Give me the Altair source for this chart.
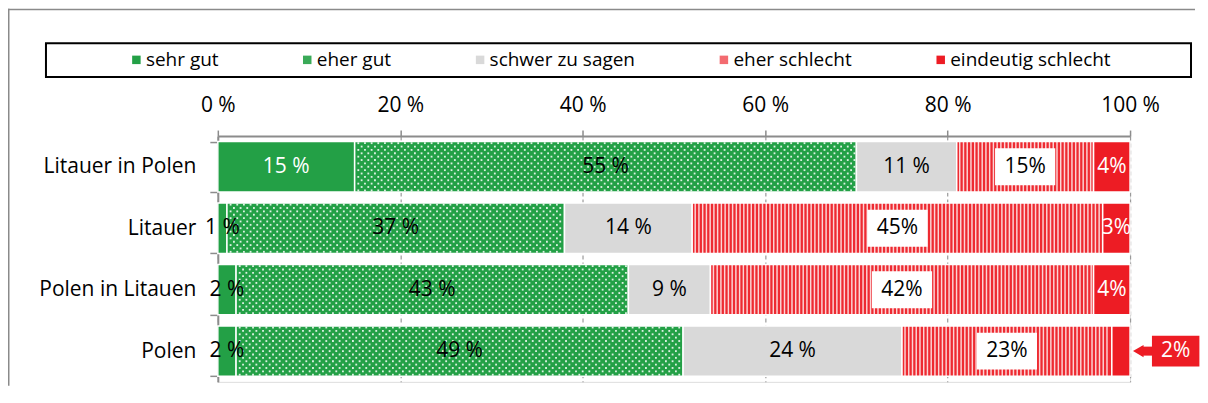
import altair as alt
import pandas as pd
import numpy as np

groups = ["Litauer in Polen", "Litauer", "Polen in Litauen", "Polen"]
answers = ["sehr gut", "eher gut", "schwer zu sagen", "eher schlecht", "eindeutig schlecht"]
sehr_gut = [15, 1, 2, 2]
eher_gut = [55, 37, 43, 49]
schwer_zu_sagen = [11, 14, 9, 24]
eher_schlecht = [15, 45, 42, 23]
eindeutig_schlecht = [4, 3, 4, 2]
bar_colors = ["#23A046", "#23A046", "#D9D9D9", "#EE2A31", "#ED1C24"]
legend_colors = ["#23A046", "#3AAA58", "#D9D9D9", "#F36B70", "#ED1C24"]
x_ticks = [0, 20, 40, 60, 80, 100]
FONT = "Open Sans"

series = [sehr_gut, eher_gut, schwer_zu_sagen, eher_schlecht, eindeutig_schlecht]

# stacked segments
rows = []
for gi, g in enumerate(groups):
    start = 0
    for ai, a in enumerate(answers):
        v = series[ai][gi]
        end = start + v
        lab = f"{v} %" if ai <= 2 else f"{v}%"
        callout = (g == "Polen" and a == "eindeutig schlecht")
        tcol = "white" if (a == "eindeutig schlecht" or (a == "sehr gut" and v >= 10)) else "black"
        rows.append(dict(group=g, answer=a, start=start, end=end, mid=(start + end) / 2,
                         label="" if callout else lab, tcol=tcol, value=v, callout=callout,
                         barcolor=bar_colors[ai]))
        start = end
seg = pd.DataFrame(rows)

# dot texture on "eher gut"
dots = []
step = 0.73
for _, r in seg[seg.answer == "eher gut"].iterrows():
    for j in range(15):
        x = r.start + 0.3 + (j % 2) * step / 2
        while x < r.end - 0.3:
            dots.append(dict(group=r.group, j=j, x=x, x2=x + 0.2))
            x += step
dots = pd.DataFrame(dots)

# stripe texture on "eher schlecht"
stripes = []
for _, r in seg[seg.answer == "eher schlecht"].iterrows():
    x = r.start + 0.25
    while x < r.end - 0.25:
        stripes.append(dict(group=r.group, x=x, x2=x + 0.16))
        x += 0.41
stripes = pd.DataFrame(stripes)

# white label boxes on "eher schlecht"
boxes = seg[seg.answer == "eher schlecht"].copy()
boxes["b1"] = boxes["mid"] - 3.3
boxes["b2"] = boxes["mid"] + 3.3

# callout for Polen / eindeutig schlecht
co = seg[seg.callout].copy()
co["label"] = co["value"].astype(str) + "%"
co["b1"] = co["end"] + 2.4
co["b2"] = co["end"] + 7.6
co["bm"] = co["end"] + 5.0
co["s1"] = co["end"] + 1.2
co["s2"] = co["end"] + 2.5
co["tip"] = co["end"] + 0.9

W, H = 913, 246
yscale = alt.Scale(domain=groups, paddingInner=0.18, paddingOuter=0.09)
xscale = alt.Scale(domain=[0, 100], nice=False)
Y = alt.Y("group:N", scale=yscale, sort=groups,
          axis=alt.Axis(title=None, labelFontSize=21, labelFont=FONT, labelColor="black",
                        labelPadding=14, tickSize=8, tickBand="extent", tickColor="#8c8c8c",
                        domainColor="#8c8c8c", domainWidth=2, tickWidth=1.5))

xaxis = alt.Axis(orient="top", values=x_ticks, labelExpr="datum.value + ' %'", title=None,
                 labelFontSize=21, labelFont=FONT, labelColor="black", labelPadding=15,
                 labelFlush=False,
                 tickSize=6, tickColor="#8c8c8c", tickWidth=1.5, domainColor="#8c8c8c",
                 domainWidth=2, grid=True, gridColor="#9a9a9a", gridDash=[4, 3], gridWidth=1.2)

bars = alt.Chart(seg).mark_bar(stroke="white", strokeWidth=1.5).encode(
    x=alt.X("start:Q", scale=xscale, axis=xaxis),
    x2="end:Q",
    y=Y,
    fill=alt.Fill("barcolor:N", scale=None),
)

legend_layer = alt.Chart(seg).mark_square(size=0, opacity=1, filled=True).encode(
    x=alt.X("start:Q", scale=xscale),
    y=alt.Y("group:N", scale=yscale, sort=groups),
    color=alt.Color("answer:N", scale=alt.Scale(domain=answers, range=legend_colors), sort=answers,
                    legend=alt.Legend(orient="none", legendX=-91, legendY=-86, direction="horizontal",
                                      title=None, symbolType="square", symbolSize=72,
                                      symbolStrokeWidth=0, symbolOpacity=1, labelFontSize=19,
                                      labelFont=FONT, labelColor="black", columnPadding=79,
                                      labelOffset=0, labelLimit=300)),
)

dot_layer = alt.Chart(dots).mark_bar(color="white", opacity=0.85).encode(
    x=alt.X("x:Q", scale=xscale), x2="x2:Q", y=alt.Y("group:N", scale=yscale, sort=groups),
    yOffset=alt.YOffset("j:O", scale=alt.Scale(domain=list(range(15)), paddingInner=0.45, paddingOuter=0.2)),
)

stripe_layer = alt.Chart(stripes).mark_bar(color="white", opacity=0.8).encode(
    x=alt.X("x:Q", scale=xscale), x2="x2:Q", y=alt.Y("group:N", scale=yscale, sort=groups),
)

box_layer = alt.Chart(boxes).mark_bar(color="white", height=37).encode(
    x=alt.X("b1:Q", scale=xscale), x2="b2:Q", y=alt.Y("group:N", scale=yscale, sort=groups),
)

text_layer = alt.Chart(seg).mark_text(fontSize=21, font=FONT).encode(
    x=alt.X("mid:Q", scale=xscale), y=alt.Y("group:N", scale=yscale, sort=groups),
    text="label:N", color=alt.Color("tcol:N", scale=None),
)

co_box = alt.Chart(co).mark_bar(color="#ED1C24", height=31).encode(
    x=alt.X("b1:Q", scale=xscale), x2="b2:Q", y=alt.Y("group:N", scale=yscale, sort=groups),
)
co_stem = alt.Chart(co).mark_bar(color="#ED1C24", height=9).encode(
    x=alt.X("s1:Q", scale=xscale), x2="s2:Q", y=alt.Y("group:N", scale=yscale, sort=groups),
)
co_tip = alt.Chart(co).mark_point(shape="triangle-left", filled=True, color="#ED1C24", size=150, opacity=1).encode(
    x=alt.X("tip:Q", scale=xscale), y=alt.Y("group:N", scale=yscale, sort=groups),
)
co_text = alt.Chart(co).mark_text(fontSize=21, font=FONT, color="white").encode(
    x=alt.X("bm:Q", scale=xscale), y=alt.Y("group:N", scale=yscale, sort=groups), text="label:N",
)

one = pd.DataFrame({"k": [0]})
legend_box = alt.Chart(one).mark_rect(fill=None, stroke="black", strokeWidth=2).encode(
    x=alt.value(-172), x2=alt.value(974), y=alt.value(-93), y2=alt.value(-59))
frame_top = alt.Chart(one).mark_rect(color="#8a8a8a", strokeWidth=0).encode(
    x=alt.value(-210), x2=alt.value(978), y=alt.value(-127.5), y2=alt.value(-126))
frame_left = alt.Chart(one).mark_rect(color="#8a8a8a", strokeWidth=0).encode(
    x=alt.value(-210), x2=alt.value(-208.5), y=alt.value(-127.5), y2=alt.value(250))

chart = alt.layer(
    bars, legend_layer, dot_layer, stripe_layer, box_layer, text_layer,
    co_stem, co_tip, co_box, co_text, legend_box, frame_top, frame_left,
).properties(width=W, height=H, padding=0).configure_view(stroke=None).configure(font=FONT)

chart.save("out.html", embed_options={"renderer": "svg", "actions": False})
